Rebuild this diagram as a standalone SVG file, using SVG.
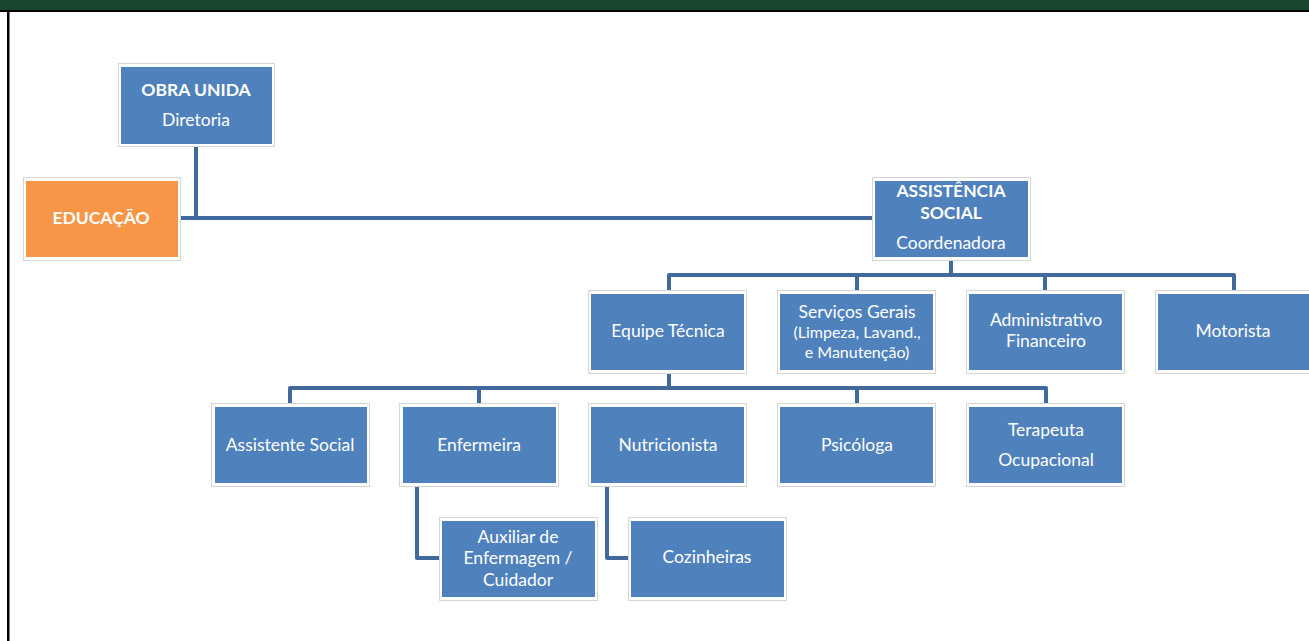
<svg xmlns="http://www.w3.org/2000/svg" width="1309" height="641" viewBox="0 0 1309 641">
<style>
.frame{fill:#fff;stroke:#d6d6d6;stroke-width:1}
.box{fill:#4F81BD}
.orange{fill:#F79646}
.t{font-family:Lato,"Liberation Sans",sans-serif;font-size:17.5px;fill:#fff;text-anchor:middle;dominant-baseline:central}
.s{font-size:16px}
.b{font-weight:bold}
.conn{fill:none;stroke:#41699C;stroke-width:4;stroke-linejoin:round}
</style>
<rect x="0" y="0" width="1309" height="641" fill="#fff"/>
<rect x="0" y="0" width="1309" height="10" fill="#18462F"/>
<rect x="0" y="10" width="1309" height="2" fill="#000"/>
<rect x="7" y="10" width="2.5" height="631" fill="#000"/>
<g id="connectors">
<path class="conn" d="M196,147 V218 M181,218 H873"/>
<path class="conn" d="M951,260 V275 M669,290 V275 H1234 V290 M857,275 V290 M1045,275 V290"/>
<path class="conn" d="M669,373 V388 M290,403 V388 H1046 V403 M479,388 V403 M857,388 V403"/>
<path class="conn" d="M417,487 V558 H440"/>
<path class="conn" d="M607,487 V558 H629"/>
</g>
<g id="obra"><rect class="frame" x="118.5" y="63.5" width="156" height="83"/><rect class="box" x="121" y="67" width="151" height="77"/><text class="t b" x="196" y="89">OBRA UNIDA</text><text class="t" x="196" y="119">Diretoria</text></g>
<g id="educacao"><rect class="frame" x="23.5" y="177.5" width="157" height="83"/><rect class="orange" x="26" y="181" width="152" height="76"/><text class="t b" x="101" y="217">EDUCAÇÃO</text></g>
<g id="assistencia"><rect class="frame" x="872.5" y="177.5" width="158" height="83"/><rect class="box" x="875" y="181" width="153" height="76"/><text class="t b" x="951" y="190">ASSISTÊNCIA</text><text class="t b" x="951" y="212">SOCIAL</text><text class="t" x="951" y="242">Coordenadora</text></g>
<g id="equipe"><rect class="frame" x="588.5" y="290.5" width="158" height="83"/><rect class="box" x="591" y="294" width="153" height="76"/><text class="t" x="668" y="330">Equipe Técnica</text></g>
<g id="servicos"><rect class="frame" x="777.5" y="290.5" width="158" height="83"/><rect class="box" x="780" y="294" width="153" height="76"/><text class="t" x="857" y="311">Serviços Gerais</text><text class="t s" x="857" y="331">(Limpeza, Lavand.,</text><text class="t s" x="857" y="351">e Manutenção)</text></g>
<g id="administrativo"><rect class="frame" x="966.5" y="290.5" width="158" height="83"/><rect class="box" x="969" y="294" width="153" height="76"/><text class="t" x="1046" y="319">Administrativo</text><text class="t" x="1046" y="340">Financeiro</text></g>
<g id="motorista"><rect class="frame" x="1155.5" y="290.5" width="158" height="83"/><rect class="box" x="1158" y="294" width="153" height="76"/><text class="t" x="1233" y="330">Motorista</text></g>
<g id="assistente"><rect class="frame" x="211.5" y="403.5" width="158" height="83"/><rect class="box" x="215" y="407" width="152" height="76"/><text class="t" x="290" y="444">Assistente Social</text></g>
<g id="enfermeira"><rect class="frame" x="399.5" y="403.5" width="159" height="83"/><rect class="box" x="403" y="407" width="153" height="76"/><text class="t" x="479" y="444">Enfermeira</text></g>
<g id="nutricionista"><rect class="frame" x="588.5" y="403.5" width="158" height="83"/><rect class="box" x="591" y="407" width="153" height="76"/><text class="t" x="668" y="444">Nutricionista</text></g>
<g id="psicologa"><rect class="frame" x="777.5" y="403.5" width="158" height="83"/><rect class="box" x="780" y="407" width="153" height="76"/><text class="t" x="857" y="444">Psicóloga</text></g>
<g id="terapeuta"><rect class="frame" x="966.5" y="403.5" width="158" height="83"/><rect class="box" x="969" y="407" width="153" height="76"/><text class="t" x="1046" y="429">Terapeuta</text><text class="t" x="1046" y="459">Ocupacional</text></g>
<g id="auxiliar"><rect class="frame" x="439.5" y="517.5" width="158" height="83"/><rect class="box" x="442" y="521" width="153" height="76"/><text class="t" x="518" y="536">Auxiliar de</text><text class="t" x="518" y="557">Enfermagem /</text><text class="t" x="518" y="579">Cuidador</text></g>
<g id="cozinheiras"><rect class="frame" x="628.5" y="517.5" width="158" height="83"/><rect class="box" x="631" y="521" width="153" height="76"/><text class="t" x="707" y="556">Cozinheiras</text></g>
</svg>
